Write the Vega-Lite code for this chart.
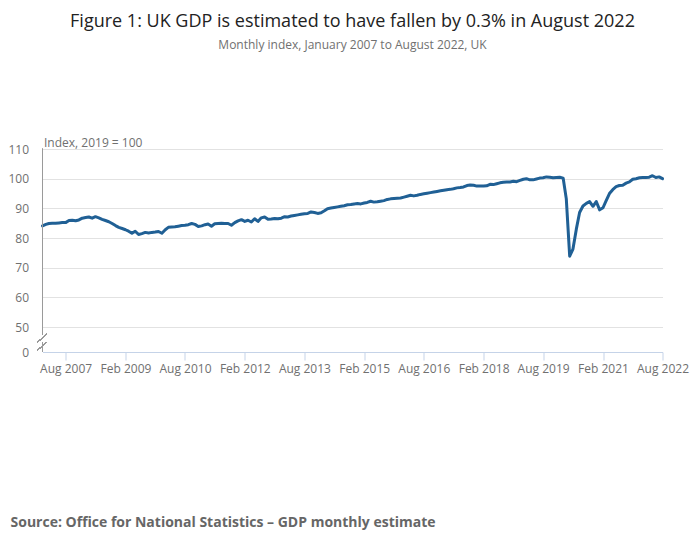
{
  "$schema": "https://vega.github.io/schema/vega-lite/v6.json",
  "autosize": "none",
  "width": 620,
  "height": 203,
  "padding": {"left": 42.5, "top": 149, "right": 37.5, "bottom": 197},
  "background": "white",
  "title": {
    "text": "Figure 1: UK GDP is estimated to have fallen by 0.3% in August 2022",
    "subtitle": "Monthly index, January 2007 to August 2022, UK",
    "anchor": "middle",
    "offset": 85,
    "fontSize": 18,
    "fontWeight": "normal",
    "color": "#222222",
    "subtitleFontSize": 12,
    "subtitleColor": "#707070",
    "subtitlePadding": 9
  },
  "data": {
    "values": [
      {"date": "2007-01-01", "gdp": 84.1}, {"date": "2007-02-01", "gdp": 84.6}, {"date": "2007-03-01", "gdp": 84.9},
      {"date": "2007-04-01", "gdp": 85.0}, {"date": "2007-05-01", "gdp": 85.0}, {"date": "2007-06-01", "gdp": 85.1},
      {"date": "2007-07-01", "gdp": 85.2}, {"date": "2007-08-01", "gdp": 85.2}, {"date": "2007-09-01", "gdp": 85.9},
      {"date": "2007-10-01", "gdp": 86.0}, {"date": "2007-11-01", "gdp": 85.8}, {"date": "2007-12-01", "gdp": 86.1},
      {"date": "2008-01-01", "gdp": 86.7}, {"date": "2008-02-01", "gdp": 86.9}, {"date": "2008-03-01", "gdp": 87.1},
      {"date": "2008-04-01", "gdp": 86.7}, {"date": "2008-05-01", "gdp": 87.2}, {"date": "2008-06-01", "gdp": 86.8},
      {"date": "2008-07-01", "gdp": 86.3}, {"date": "2008-08-01", "gdp": 85.9}, {"date": "2008-09-01", "gdp": 85.5},
      {"date": "2008-10-01", "gdp": 84.9}, {"date": "2008-11-01", "gdp": 84.2}, {"date": "2008-12-01", "gdp": 83.6},
      {"date": "2009-01-01", "gdp": 83.2}, {"date": "2009-02-01", "gdp": 82.8}, {"date": "2009-03-01", "gdp": 82.3},
      {"date": "2009-04-01", "gdp": 81.6}, {"date": "2009-05-01", "gdp": 82.3}, {"date": "2009-06-01", "gdp": 81.2},
      {"date": "2009-07-01", "gdp": 81.5}, {"date": "2009-08-01", "gdp": 81.9}, {"date": "2009-09-01", "gdp": 81.7},
      {"date": "2009-10-01", "gdp": 81.9}, {"date": "2009-11-01", "gdp": 82.0}, {"date": "2009-12-01", "gdp": 82.2},
      {"date": "2010-01-01", "gdp": 81.6}, {"date": "2010-02-01", "gdp": 82.8}, {"date": "2010-03-01", "gdp": 83.6},
      {"date": "2010-04-01", "gdp": 83.7}, {"date": "2010-05-01", "gdp": 83.8}, {"date": "2010-06-01", "gdp": 84.0},
      {"date": "2010-07-01", "gdp": 84.2}, {"date": "2010-08-01", "gdp": 84.3}, {"date": "2010-09-01", "gdp": 84.5},
      {"date": "2010-10-01", "gdp": 84.9}, {"date": "2010-11-01", "gdp": 84.6}, {"date": "2010-12-01", "gdp": 83.9},
      {"date": "2011-01-01", "gdp": 84.1}, {"date": "2011-02-01", "gdp": 84.5}, {"date": "2011-03-01", "gdp": 84.7},
      {"date": "2011-04-01", "gdp": 84.0}, {"date": "2011-05-01", "gdp": 84.8}, {"date": "2011-06-01", "gdp": 84.9},
      {"date": "2011-07-01", "gdp": 85.0}, {"date": "2011-08-01", "gdp": 84.9}, {"date": "2011-09-01", "gdp": 84.9},
      {"date": "2011-10-01", "gdp": 84.3}, {"date": "2011-11-01", "gdp": 85.2}, {"date": "2011-12-01", "gdp": 85.8},
      {"date": "2012-01-01", "gdp": 86.2}, {"date": "2012-02-01", "gdp": 85.6}, {"date": "2012-03-01", "gdp": 86.0},
      {"date": "2012-04-01", "gdp": 85.4}, {"date": "2012-05-01", "gdp": 86.5}, {"date": "2012-06-01", "gdp": 85.6},
      {"date": "2012-07-01", "gdp": 86.8}, {"date": "2012-08-01", "gdp": 87.1}, {"date": "2012-09-01", "gdp": 86.3},
      {"date": "2012-10-01", "gdp": 86.4}, {"date": "2012-11-01", "gdp": 86.6}, {"date": "2012-12-01", "gdp": 86.5},
      {"date": "2013-01-01", "gdp": 86.7}, {"date": "2013-02-01", "gdp": 87.2}, {"date": "2013-03-01", "gdp": 87.1},
      {"date": "2013-04-01", "gdp": 87.4}, {"date": "2013-05-01", "gdp": 87.6}, {"date": "2013-06-01", "gdp": 87.8},
      {"date": "2013-07-01", "gdp": 88.0}, {"date": "2013-08-01", "gdp": 88.2}, {"date": "2013-09-01", "gdp": 88.3},
      {"date": "2013-10-01", "gdp": 88.8}, {"date": "2013-11-01", "gdp": 88.6}, {"date": "2013-12-01", "gdp": 88.3},
      {"date": "2014-01-01", "gdp": 88.5}, {"date": "2014-02-01", "gdp": 89.2}, {"date": "2014-03-01", "gdp": 89.9},
      {"date": "2014-04-01", "gdp": 90.1}, {"date": "2014-05-01", "gdp": 90.3}, {"date": "2014-06-01", "gdp": 90.5},
      {"date": "2014-07-01", "gdp": 90.7}, {"date": "2014-08-01", "gdp": 90.9}, {"date": "2014-09-01", "gdp": 91.2},
      {"date": "2014-10-01", "gdp": 91.3}, {"date": "2014-11-01", "gdp": 91.5}, {"date": "2014-12-01", "gdp": 91.6},
      {"date": "2015-01-01", "gdp": 91.5}, {"date": "2015-02-01", "gdp": 91.8}, {"date": "2015-03-01", "gdp": 92.0},
      {"date": "2015-04-01", "gdp": 92.4}, {"date": "2015-05-01", "gdp": 92.1}, {"date": "2015-06-01", "gdp": 92.2},
      {"date": "2015-07-01", "gdp": 92.4}, {"date": "2015-08-01", "gdp": 92.6}, {"date": "2015-09-01", "gdp": 93.0},
      {"date": "2015-10-01", "gdp": 93.2}, {"date": "2015-11-01", "gdp": 93.3}, {"date": "2015-12-01", "gdp": 93.4},
      {"date": "2016-01-01", "gdp": 93.5}, {"date": "2016-02-01", "gdp": 93.8}, {"date": "2016-03-01", "gdp": 94.1},
      {"date": "2016-04-01", "gdp": 94.4}, {"date": "2016-05-01", "gdp": 94.2}, {"date": "2016-06-01", "gdp": 94.4},
      {"date": "2016-07-01", "gdp": 94.7}, {"date": "2016-08-01", "gdp": 94.9}, {"date": "2016-09-01", "gdp": 95.1},
      {"date": "2016-10-01", "gdp": 95.3}, {"date": "2016-11-01", "gdp": 95.5}, {"date": "2016-12-01", "gdp": 95.7},
      {"date": "2017-01-01", "gdp": 95.9}, {"date": "2017-02-01", "gdp": 96.1}, {"date": "2017-03-01", "gdp": 96.3},
      {"date": "2017-04-01", "gdp": 96.4}, {"date": "2017-05-01", "gdp": 96.6}, {"date": "2017-06-01", "gdp": 96.9},
      {"date": "2017-07-01", "gdp": 97.0}, {"date": "2017-08-01", "gdp": 97.2}, {"date": "2017-09-01", "gdp": 97.7},
      {"date": "2017-10-01", "gdp": 97.9}, {"date": "2017-11-01", "gdp": 97.8}, {"date": "2017-12-01", "gdp": 97.5},
      {"date": "2018-01-01", "gdp": 97.5}, {"date": "2018-02-01", "gdp": 97.5}, {"date": "2018-03-01", "gdp": 97.6},
      {"date": "2018-04-01", "gdp": 98.1}, {"date": "2018-05-01", "gdp": 98.0}, {"date": "2018-06-01", "gdp": 98.3},
      {"date": "2018-07-01", "gdp": 98.6}, {"date": "2018-08-01", "gdp": 98.8}, {"date": "2018-09-01", "gdp": 98.9},
      {"date": "2018-10-01", "gdp": 98.9}, {"date": "2018-11-01", "gdp": 99.1}, {"date": "2018-12-01", "gdp": 99.0},
      {"date": "2019-01-01", "gdp": 99.4}, {"date": "2019-02-01", "gdp": 99.8}, {"date": "2019-03-01", "gdp": 100.0},
      {"date": "2019-04-01", "gdp": 99.6}, {"date": "2019-05-01", "gdp": 99.6}, {"date": "2019-06-01", "gdp": 99.9},
      {"date": "2019-07-01", "gdp": 100.2}, {"date": "2019-08-01", "gdp": 100.3}, {"date": "2019-09-01", "gdp": 100.6},
      {"date": "2019-10-01", "gdp": 100.5}, {"date": "2019-11-01", "gdp": 100.3}, {"date": "2019-12-01", "gdp": 100.4},
      {"date": "2020-01-01", "gdp": 100.5}, {"date": "2020-02-01", "gdp": 100.2}, {"date": "2020-03-01", "gdp": 93.2},
      {"date": "2020-04-01", "gdp": 73.9}, {"date": "2020-05-01", "gdp": 76.3}, {"date": "2020-06-01", "gdp": 83.0},
      {"date": "2020-07-01", "gdp": 88.6}, {"date": "2020-08-01", "gdp": 90.8}, {"date": "2020-09-01", "gdp": 91.7},
      {"date": "2020-10-01", "gdp": 92.3}, {"date": "2020-11-01", "gdp": 90.7}, {"date": "2020-12-01", "gdp": 92.3},
      {"date": "2021-01-01", "gdp": 89.5}, {"date": "2021-02-01", "gdp": 90.2}, {"date": "2021-03-01", "gdp": 92.5},
      {"date": "2021-04-01", "gdp": 95.0}, {"date": "2021-05-01", "gdp": 96.3}, {"date": "2021-06-01", "gdp": 97.3},
      {"date": "2021-07-01", "gdp": 97.7}, {"date": "2021-08-01", "gdp": 97.8}, {"date": "2021-09-01", "gdp": 98.5},
      {"date": "2021-10-01", "gdp": 98.9}, {"date": "2021-11-01", "gdp": 99.8}, {"date": "2021-12-01", "gdp": 100.0},
      {"date": "2022-01-01", "gdp": 100.3}, {"date": "2022-02-01", "gdp": 100.4}, {"date": "2022-03-01", "gdp": 100.4},
      {"date": "2022-04-01", "gdp": 100.5}, {"date": "2022-05-01", "gdp": 101.0}, {"date": "2022-06-01", "gdp": 100.4},
      {"date": "2022-07-01", "gdp": 100.6}, {"date": "2022-08-01", "gdp": 100.0}
    ]
  },
  "layer": [
    {
      "mark": {"type": "line", "color": "#206095", "strokeWidth": 3, "strokeJoin": "round", "strokeCap": "round"},
      "encoding": {
        "x": {
          "field": "date",
          "type": "temporal",
          "scale": {
            "type": "utc",
            "domain": [
              {"year": 2007, "month": 1, "date": 1, "utc": true},
              {"year": 2022, "month": 8, "date": 1, "utc": true}
            ]
          },
          "axis": {
            "title": "Source: Office for National Statistics \u2013 GDP monthly estimate",
            "titleAnchor": "start",
            "titleAlign": "left",
            "titleX": -32.5,
            "titleY": 170,
            "titleBaseline": "middle",
            "titleFontSize": 14,
            "titleFontWeight": "bold",
            "titleColor": "#666666",
            "values": [
              {"year": 2007, "month": 8, "date": 1, "utc": true},
              {"year": 2009, "month": 2, "date": 1, "utc": true},
              {"year": 2010, "month": 8, "date": 1, "utc": true},
              {"year": 2012, "month": 2, "date": 1, "utc": true},
              {"year": 2013, "month": 8, "date": 1, "utc": true},
              {"year": 2015, "month": 2, "date": 1, "utc": true},
              {"year": 2016, "month": 8, "date": 1, "utc": true},
              {"year": 2018, "month": 2, "date": 1, "utc": true},
              {"year": 2019, "month": 8, "date": 1, "utc": true},
              {"year": 2021, "month": 2, "date": 1, "utc": true},
              {"year": 2022, "month": 8, "date": 1, "utc": true}
            ],
            "tickCount": 20,
            "format": "%b %Y",
            "grid": false,
            "domainColor": "#c5d3e8",
            "tickColor": "#c5d3e8",
            "tickSize": 8,
            "labelPadding": 3,
            "labelFontSize": 12,
            "labelColor": "#707070",
            "labelFlush": false,
            "labelOverlap": false
          }
        },
        "y": {
          "field": "gdp",
          "type": "quantitative",
          "scale": {"domain": [41.6, 110], "nice": false, "zero": false},
          "axis": {
            "title": "Index, 2019 = 100",
            "titleAngle": 0,
            "titleAlign": "left",
            "titleBaseline": "alphabetic",
            "titleX": 1,
            "titleY": -3,
            "titleFontSize": 12,
            "titleFontWeight": "normal",
            "titleColor": "#707070",
            "values": [41.6, 50, 60, 70, 80, 90, 100, 110],
            "tickCount": 12,
            "labelExpr": "datum.value < 45 ? '0' : datum.label",
            "labelOverlap": false,
            "labelFlush": false,
            "domain": false,
            "ticks": false,
            "labelPadding": 14,
            "labelFontSize": 12,
            "labelColor": "#707070",
            "gridColor": "#e2e2e2",
            "gridOpacity": {"condition": {"test": "datum.value < 45", "value": 0}, "value": 1}
          }
        }
      }
    },
    {
      "mark": {"type": "rule", "color": "#9a9a9a", "strokeWidth": 1},
      "encoding": {
        "x": {"datum": {"year": 2007, "month": 1, "date": 1, "utc": true}, "type": "temporal"},
        "y": {"datum": 47.5, "type": "quantitative"},
        "y2": {"datum": 110}
      }
    },
    {
      "mark": {"type": "rule", "color": "#9a9a9a", "strokeWidth": 1},
      "encoding": {
        "x": {"datum": {"year": 2007, "month": 1, "date": 1, "utc": true}, "type": "temporal"},
        "y": {"datum": 41.6, "type": "quantitative"},
        "y2": {"datum": 44.8}
      }
    },
    {
      "mark": {"type": "rule", "color": "#9a9a9a", "strokeWidth": 1},
      "encoding": {
        "x": {"datum": {"year": 2006, "month": 11, "date": 15, "utc": true}, "type": "temporal"},
        "x2": {"datum": {"year": 2007, "month": 2, "date": 10, "utc": true}},
        "y": {"datum": 44.9, "type": "quantitative"},
        "y2": {"datum": 47.6}
      }
    },
    {
      "mark": {"type": "rule", "color": "#9a9a9a", "strokeWidth": 1},
      "encoding": {
        "x": {"datum": {"year": 2006, "month": 11, "date": 15, "utc": true}, "type": "temporal"},
        "x2": {"datum": {"year": 2007, "month": 2, "date": 10, "utc": true}},
        "y": {"datum": 42.2, "type": "quantitative"},
        "y2": {"datum": 44.9}
      }
    }
  ],
  "config": {
    "font": "Open Sans",
    "view": {"stroke": null}
  }
}
